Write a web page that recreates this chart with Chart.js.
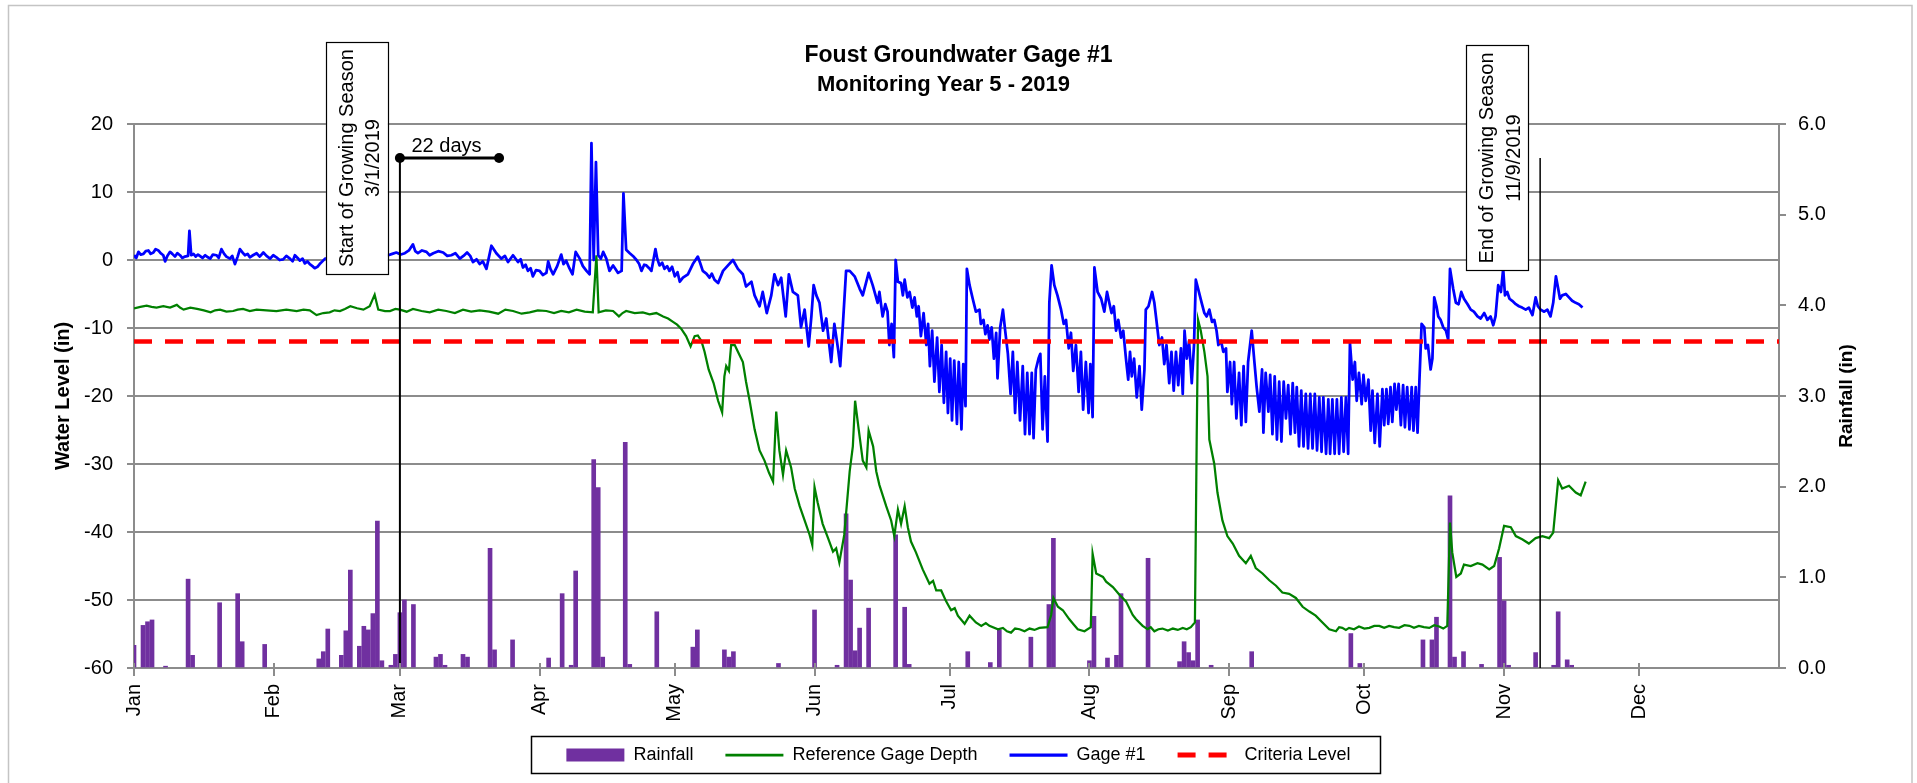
<!DOCTYPE html>
<html>
<head>
<meta charset="utf-8">
<title>Foust Groundwater Gage #1</title>
<script src="https://cdn.jsdelivr.net/npm/chart.js@4.4.1/dist/chart.umd.min.js"></script>
<style>
  html, body { margin: 0; padding: 0; background: #ffffff; }
  #wrap { width: 1917px; height: 783px; }
  canvas { display: block; }
</style>
</head>
<body>
<div id="wrap"><canvas id="chart" width="1917" height="783"></canvas></div>
<script>
// ---- Axis tick data (day of year, 0 = Jan 1) ----
const monthStartDays = [0, 31, 59, 90, 120, 151, 181, 212, 243, 273, 304, 334];
const monthLabels = ['Jan', 'Feb', 'Mar', 'Apr', 'May', 'Jun', 'Jul', 'Aug', 'Sep', 'Oct', 'Nov', 'Dec'];

// ---- Daily rainfall (in) ----
const rainDay = [0,2,3,4,7,12,13,19,23,24,29,41,42,43,46,47,48,50,51,52,53,54,55,57,58,59,60,62,67,68,69,73,74,79,80,84,92,95,97,98,102,103,104,109,110,116,124,125,131,132,133,143,151,156,158,159,160,161,163,169,171,172,185,190,192,199,203,204,212,213,216,218,219,225,232,233,234,235,236,239,248,270,272,286,288,289,292,293,295,299,303,304,305,311,315,316,318,319];
const rainInches = [0.25,0.47,0.51,0.53,0.02,0.98,0.14,0.72,0.82,0.29,0.26,0.10,0.18,0.43,0.14,0.41,1.08,0.24,0.46,0.42,0.60,1.62,0.08,0.03,0.15,0.61,0.75,0.70,0.12,0.15,0.03,0.15,0.12,1.32,0.20,0.31,0.11,0.82,0.03,1.07,2.30,1.99,0.12,2.49,0.04,0.62,0.23,0.42,0.20,0.12,0.18,0.05,0.64,0.03,1.70,0.97,0.19,0.44,0.66,1.47,0.67,0.04,0.18,0.06,0.42,0.34,0.70,1.43,0.08,0.57,0.11,0.14,0.82,1.21,0.07,0.29,0.17,0.08,0.53,0.03,0.18,0.38,0.05,0.31,0.31,0.56,1.90,0.12,0.18,0.04,1.22,0.74,0.03,0.17,0.03,0.62,0.09,0.03];

// ---- Gage #1 water level (in), [day, level] ----
const gage1Readings = [
  [0,0.7],[0.5,0.3],[1,1.2],[1.5,0.8],[2.1,0.9],[2.6,1.3],[3.2,1.4],[3.7,0.9],[4.3,1.1],[4.8,1.6],[5.4,1.4],[5.9,1.0],[6.5,0.7],[6.9,-0.2],[7.4,0.6],[8,1.2],[8.5,0.9],[9.1,0.5],[9.6,1.0],[10.2,0.7],[10.7,0.3],[11.3,0.5],[12,0.6],[12.3,4.3],[12.7,0.7],[13.2,0.9],[13.7,0.5],[14.2,0.8],[14.6,0.6],[15.2,0.3],[15.8,0.7],[16.4,0.4],[16.9,0.2],[17.5,0.8],[18.3,0.7],[18.8,0.3],[19.4,1.6],[20,0.9],[20.5,0.5],[21.3,0.2],[21.8,0.6],[22.4,-0.6],[23,0.5],[23.5,1.6],[24.1,1.1],[24.6,0.7],[25.2,0.9],[25.7,0.4],[26.4,0.7],[27.2,1.0],[27.9,0.5],[28.7,1.1],[29.4,0.6],[30.2,0.2],[30.9,0.7],[31.6,0.4],[32.3,0.0],[33.1,0.1],[33.8,0.6],[34.6,0.2],[35.2,-0.2],[35.7,0.7],[36.3,0.3],[36.8,-0.1],[37.4,0.2],[37.9,-0.5],[38.5,-0.2],[39,-0.6],[39.6,-0.9],[40.1,-1.2],[40.7,-1.0],[41.2,-0.6],[41.8,-0.2],[42.4,0.2],[45,0.4],[48,0.9],[51,0.5],[54,0.8],
  [56.4,0.7],[57.3,0.9],[58.2,1.1],[59.2,0.8],[60.1,1.0],[61,1.4],[61.9,2.3],[62.4,1.3],[63,1.0],[63.9,1.4],[64.9,1.2],[65.6,0.7],[66.4,1.0],[67.5,1.3],[68.6,1.1],[69.5,0.6],[70.4,0.7],[71.3,1.0],[72.3,0.2],[73.1,0.6],[73.9,1.1],[74.6,0.6],[75.2,-0.3],[76,0.1],[76.7,-0.6],[77.4,-0.2],[78.2,-1.3],[79.3,2.1],[80.4,1.0],[81.5,0.2],[82.3,0.6],[83,-0.3],[84.1,0.7],[85.2,-0.3],[85.8,0.1],[86.3,-1.1],[86.9,-0.7],[87.4,-1.6],[88,-1.2],[88.5,-2.4],[89.2,-1.5],[90,-1.6],[90.7,-2.2],[91.5,-1.9],[91.9,-0.2],[92.4,-1.3],[93,-2.1],[93.9,-0.9],[94.8,0.8],[95.3,-0.6],[95.9,-0.1],[96.6,-1.2],[97.3,-2.1],[98,1.2],[98.9,0.2],[99.6,-0.9],[100.4,-1.6],[101.1,-2.1],[101.5,17.2],[102,0.0],[102.5,14.4],[103,0.7],[103.6,0.2],[104.1,1.2],[104.8,0.2],[105.5,-1.6],[106.3,-0.8],[106.9,-1.4],[107.4,-1.9],[108.2,-1.6],[108.6,9.8],[109.2,1.5],
  [110,1.0],[110.7,0.6],[111.5,0.0],[112.1,-0.6],[112.6,-1.6],[113.2,-0.7],[113.7,-0.8],[114.3,-1.2],[114.8,-1.6],[115.7,1.6],[116.1,0.2],[116.6,-0.8],[117.2,-0.4],[117.7,-1.3],[118.3,-0.9],[118.8,-1.6],[119.4,-1.0],[120,-2.4],[120.6,-1.8],[121.1,-3.2],[121.8,-2.6],[122.9,-2.1],[124,-0.6],[125.1,0.5],[125.6,-0.4],[126.2,-1.6],[127,-2.0],[127.7,-2.6],[128.2,-2.0],[128.8,-2.9],[129.6,-3.4],[130.7,-1.6],[131.8,-0.8],[132.9,0.0],[134,-1.3],[135.1,-2.1],[135.8,-3.9],[137,-3.2],[137.7,-5.2],[138.8,-6.8],[139.5,-4.7],[140.4,-7.8],[141.4,-5.2],[142.1,-2.1],[142.9,-3.7],[143.6,-2.6],[144.6,-8.3],[145.3,-2.1],[146.2,-4.7],[147.3,-5.2],[148,-9.9],[148.8,-7.3],[149.7,-12.7],[150.3,-8.3],[150.8,-3.7],[151.4,-5.2],[152.1,-6.3],[152.9,-10.4],[153.6,-8.6],[154.7,-15.0],[155.4,-9.4],[156.2,-13.0],[156.7,-15.6],[157.3,-9.4],[158,-1.6],[158.8,-1.6],[159.9,-2.4],[161,-4.2],[161.7,-5.2],[163,-1.9],[163.9,-3.7],[165,-6.3],
  [165.4,-4.7],[166.1,-8.3],[166.7,-6.5],[167.2,-7.6],[167.6,-12.5],[168.1,-9.4],[168.6,-14.3],[169,0.0],[169.5,-3.2],[170.2,-3.4],[170.6,-5.2],[171,-2.9],[171.6,-5.5],[172.1,-4.7],[172.7,-7.0],[173.2,-5.5],[173.7,-8.3],[174.1,-6.8],[174.6,-11.2],[175.2,-7.8],[175.8,-12.5],[176.2,-9.4],[176.6,-15.6],[177.1,-10.4],[177.6,-17.9],[178.2,-11.4],[178.7,-19.4],[179.2,-12.5],[179.7,-21.0],[180.2,-13.5],[180.6,-22.5],[181.1,-14.5],[181.5,-23.6],[182,-14.8],[182.6,-24.1],[183,-15.0],[183.6,-24.9],[184,-15.3],[184.5,-21.5],[184.8,-1.3],[185.4,-3.7],[186.1,-5.7],[186.8,-7.6],[187.6,-7.3],[187.9,-9.4],[188.5,-8.8],[188.9,-10.9],[189.4,-9.6],[189.8,-11.7],[190.3,-9.9],[190.8,-14.5],[191.3,-10.7],[191.6,-17.4],[192.2,-9.9],[192.8,-7.3],[193.3,-10.4],[193.9,-13.8],[194.5,-19.7],[195,-13.5],[195.5,-22.5],[196,-15.0],[196.6,-23.6],[197.2,-15.6],[197.7,-25.6],[198.2,-16.6],[198.7,-25.6],[199.2,-16.6],[199.6,-26.2],[200.1,-16.1],[200.7,-14.5],[201.1,-13.8],[201.6,-24.9],[202.1,-17.1],[202.7,-26.7],[203.1,-6.3],[203.6,-0.8],[204.2,-3.7],[204.9,-5.2],[205.7,-7.3],[206.3,-9.4],[206.8,-8.8],[207.4,-13.0],[207.9,-10.7],[208.4,-16.3],[209,-12.5],[209.6,-19.4],[210.1,-13.5],[210.6,-22.0],[211.2,-15.0],[211.8,-22.5],[212.2,-15.3],[212.7,-23.1],[213.1,-1.1],[213.8,-4.7],[214.6,-5.7],[215.3,-7.6],[215.9,-4.7],[216.4,-6.3],[216.9,-7.8],[217.4,-6.8],[217.9,-10.4],[218.4,-8.8],[219,-11.4],[219.5,-10.4],[220.1,-14.5],[220.6,-17.6],[221,-13.5],
  [221.4,-17.1],[221.9,-14.5],[222.5,-20.2],[223.1,-15.6],[223.6,-22.0],[224.2,-16.1],[224.5,-7.3],[225.1,-6.8],[225.9,-4.7],[226.4,-6.3],[226.9,-9.1],[227.5,-12.5],[228.1,-11.4],[228.6,-15.3],[229.1,-12.5],[229.7,-18.1],[230.2,-13.5],[230.7,-19.2],[231.2,-13.5],[231.7,-18.4],[232.3,-13.0],[232.7,-19.7],[233.1,-10.4],[233.6,-14.5],[234.1,-11.9],[234.7,-18.1],[235.2,-12.5],[235.6,-2.9],[236.1,-4.2],[236.9,-6.3],[237.5,-7.8],[238,-8.3],[238.6,-7.3],[239.2,-9.1],[239.7,-8.8],[240.2,-10.4],[240.6,-12.5],[241.2,-11.9],[241.7,-13.5],[242.3,-13.0],[242.6,-19.4],[243.2,-15.0],[243.6,-21.2],[244.1,-15.0],[244.6,-23.3],[245.2,-16.6],[245.7,-24.3],[246.2,-15.6],[246.7,-23.8],[247.2,-15.0],[248,-10.4],[248.6,-15.0],[249.1,-18.7],[249.7,-22.3],[250.3,-16.1],[250.6,-25.4],[251.1,-16.6],[251.7,-22.3],[252.1,-16.9],[252.6,-25.6],[253.1,-17.1],[253.6,-26.4],[254.1,-17.9],[254.6,-26.7],[255.1,-17.9],[255.6,-23.3],[256.1,-18.4],[256.6,-25.6],[257.1,-18.1],[257.6,-25.4],[258,-18.7],[258.5,-27.4],[259,-19.2],[259.5,-27.4],[260,-19.7],[260.5,-27.7],[261,-19.7],[261.5,-27.7],[262,-19.7],[262.5,-28.0],[263,-20.2],[263.5,-28.2],[263.9,-20.2],[264.5,-28.5],[265,-20.5],[265.4,-28.5],[265.9,-20.5],[266.4,-28.5],[266.9,-20.5],[267.4,-28.5],[267.9,-20.2],[268.4,-28.2],[268.9,-20.2],[269.4,-28.5],[269.8,-12.2],[270.4,-17.6],[270.9,-15.0],[271.3,-20.7],[271.8,-16.6],[272.4,-21.2],[272.8,-16.9],[273.3,-20.7],[273.9,-17.6],[274.4,-25.1],[274.8,-19.2],[275.3,-26.9],[275.9,-19.7],[276.4,-27.4],
  [277,-19.0],[277.4,-24.3],[277.9,-19.0],[278.3,-24.1],[278.8,-18.7],[279.2,-23.8],[279.7,-18.2],[280.1,-22.0],[280.6,-18.2],[281.1,-24.3],[281.6,-18.4],[282,-24.6],[282.5,-18.7],[283,-24.9],[283.5,-18.7],[283.9,-25.1],[284.4,-18.7],[284.8,-25.4],[285.2,-18.0],[285.7,-9.4],[286.3,-9.9],[286.6,-13.0],[287.1,-12.5],[287.7,-16.1],[288.1,-14.5],[288.5,-5.5],[289,-6.8],[289.4,-8.3],[289.9,-8.8],[290.5,-9.9],[291.1,-10.4],[291.6,-11.7],[292,-1.3],[292.7,-4.2],[293.3,-6.3],[293.9,-6.5],[294.5,-4.7],[295.1,-5.7],[295.9,-6.5],[296.6,-7.3],[297.3,-7.6],[298.1,-8.3],[298.8,-8.6],[299.6,-7.8],[300.3,-8.8],[301,-8.3],[301.6,-9.6],[302.1,-8.3],[302.7,-3.7],[303.3,-4.7],[303.8,-1.3],[304.2,-5.2],[304.7,-4.7],[305.2,-5.7],[305.8,-6.0],[306.6,-6.5],[307.3,-6.8],[308,-7.0],[308.8,-7.3],[309.5,-7.0],[310.3,-8.1],[311,-5.5],[311.5,-6.8],[312.1,-7.3],[312.9,-7.6],[313.6,-7.3],[314.3,-8.3],[314.9,-6.3],[315.5,-2.4],[316,-4.2],[316.4,-5.7],[316.9,-5.2],[317.7,-5.0],[318.4,-5.5],[319.1,-6.0],[319.9,-6.3],[320.6,-6.5],[321.4,-7.0]
];

// ---- Reference gage depth (in), [day, level] ----
const referenceReadings = [
  [0,-7.1],[1.4,-6.9],[2.8,-6.7],[3.9,-6.9],[5,-7.0],[6.5,-6.8],[8,-7.0],[9.5,-6.6],[10.2,-7.0],[11,-7.3],[12.5,-7.0],[14,-7.2],[15.5,-7.4],[17,-7.7],[18,-7.4],[19.1,-7.3],[20.5,-7.6],[22,-7.5],[23,-7.3],[24.2,-7.2],[25.7,-7.5],[27.2,-7.3],[29.4,-7.4],[31.6,-7.5],[33.8,-7.3],[36.1,-7.5],[37.6,-7.3],[39,-7.4],[40.5,-8.1],[42,-7.8],[43.4,-7.7],[44.5,-7.4],[45.7,-7.5],[46.8,-7.2],[48,-6.8],[49.5,-7.1],[50.9,-7.3],[52.3,-6.8],[53.4,-5.1],[54.2,-7.3],[55.7,-7.5],
  [56.8,-7.5],[58,-7.2],[59,-7.3],[60.5,-7.6],[61.9,-7.2],[63.8,-7.5],[65.6,-7.7],[67.5,-7.3],[69.3,-7.5],[71.2,-7.8],[73,-7.3],[74.8,-7.6],[76.7,-7.4],[78.8,-7.6],[80.8,-7.9],[82.4,-7.3],[84.1,-7.5],[86,-7.9],[87.8,-7.7],[89.6,-7.4],[91.5,-7.5],[93.2,-7.8],[94.8,-7.5],[96.5,-7.7],[98.2,-7.3],[100,-7.6],[101.8,-7.7],[102.6,0.7],[103.1,-7.7],[104.7,-7.4],[106.3,-7.5],[107.6,-8.3],[108.4,-7.8],[109.2,-7.5],[111.1,-7.8],
  [112.9,-7.7],[114.4,-8.0],[115.9,-7.8],[117.4,-8.3],[118.5,-8.6],[119.6,-9.1],[120.5,-9.5],[121.4,-10.1],[122.5,-11.2],[123.5,-12.7],[124.4,-11.2],[125.1,-11.1],[125.9,-11.9],[126.6,-13.5],[127.5,-16.1],[128.6,-18.1],[129.6,-20.7],[130.5,-22.4],[131,-17.1],[131.4,-15.6],[132,-16.3],[132.5,-12.5],[133.3,-12.5],[134,-13.5],[135.1,-15.0],[135.8,-17.9],[136.6,-20.7],[137.7,-24.9],[138.8,-28.0],[139.9,-29.5],[140.9,-31.3],[141.8,-32.6],[142.5,-22.3],[143.2,-28.0],[144,-31.6],[144.7,-28.0],[145.8,-30.5],[146.6,-33.6],[147.7,-36.2],[148.8,-38.3],[149.9,-40.4],[150.5,-41.9],[151,-33.4],[151.7,-35.7],[152.8,-38.8],[154,-40.9],[155.1,-42.9],[155.8,-42.4],[156.5,-44.5],[157.6,-40.4],[158.8,-31.1],[159.5,-27.4],[160,-20.7],[160.8,-24.9],[161.7,-29.5],[162.5,-30.5],[163,-25.1],[164,-27.4],[164.7,-31.1],[165.4,-33.1],
  [166.9,-36.2],[168,-38.3],[168.7,-40.6],[169.5,-36.7],[170.2,-38.8],[171,-36.2],[171.7,-39.3],[172.4,-41.4],[173.5,-43.0],[175,-45.5],[176.5,-47.6],[177.3,-47.2],[178,-48.6],[179.1,-48.6],[180.2,-50.2],[181.3,-51.5],[182.1,-51.2],[182.8,-52.3],[184.3,-53.5],[185.4,-52.3],[186.8,-53.3],[188,-53.8],[189,-53.4],[189.8,-53.8],[191.7,-54.3],[192.8,-54.1],[193.7,-54.6],[194.6,-54.8],[195.5,-54.2],[196.5,-54.3],[197.6,-54.6],[198.7,-54.2],[199.8,-54.4],[200.9,-54.1],[202.7,-54.0],[203.5,-52.2],[204,-49.7],[205,-51.0],[206.1,-51.5],[207.5,-52.8],[208.5,-53.6],[209.4,-54.3],[210.9,-54.6],[212.3,-54.0],[212.7,-43.2],[213.5,-46.1],[215,-46.6],[215.7,-47.3],[217.2,-48.1],[218.6,-49.2],[220.1,-50.2],[221.6,-52.2],
  [222.3,-52.8],[223.8,-53.8],[224.9,-54.3],[225.6,-54.0],[226.4,-54.6],[227.3,-54.3],[228.2,-54.2],[229.4,-54.5],[230.5,-54.2],[231.6,-54.4],[232.7,-54.1],[233.6,-54.3],[234.5,-54.0],[235.4,-53.3],[235.8,-25.9],[236.1,-8.8],[236.7,-10.4],[237.5,-13.5],[238.2,-17.1],[238.6,-26.4],[239.7,-30.0],[240.4,-34.2],[241.5,-38.3],[242.6,-40.6],[243.8,-41.7],[245.2,-43.5],[246.7,-44.6],[247.8,-43.5],[248.9,-45.3],[250.4,-46.1],[251.9,-47.1],[253.4,-47.9],[254.8,-48.9],[256.3,-49.1],[257.8,-49.7],[259.3,-51.0],[260.8,-51.7],[262.2,-52.3],[263.7,-53.3],[265.2,-54.3],[266.7,-54.6],[267.4,-54.0],[268.1,-54.1],[268.9,-54.4],[269.6,-54.1],[270.7,-54.3],[271.8,-53.9],[273,-54.2],[274.1,-54.1],[275.2,-53.8],[276.3,-53.8],
  [277.4,-54.1],[278.5,-53.8],[279.6,-54.0],[280.7,-54.1],[281.9,-53.7],[283,-53.8],[284,-54.1],[285.1,-53.8],[286.2,-54.0],[287.4,-54.1],[288.5,-53.7],[289.6,-53.9],[290.5,-54.2],[291.4,-53.8],[292,-38.6],[292.5,-43.0],[293.4,-46.6],[294.4,-46.1],[295.1,-44.8],[296.6,-45.0],[298.1,-44.6],[299.2,-44.8],[300.7,-45.5],[301.8,-45.0],[302.9,-42.4],[304,-39.1],[305.5,-39.3],[306.6,-40.6],[308.1,-41.1],[309.5,-41.7],[311,-40.9],[312.5,-40.6],[314,-40.9],[314.9,-40.1],[316,-32.4],[316.9,-33.6],[318.4,-33.2],[319.9,-34.2],[321,-34.6],[322.1,-32.6]
];

// ---- Criteria level (in) across the year ----
const criteriaDay = [0, 365];
const criteriaLevel = [-12, -12];

// ---- Growing season markers ----
const growStartDay = 59;      // 3/1/2019
const growEndDay = 312;       // 11/9/2019
const bracketDays = 22;
const markerLevel = 15;
const startLabel = ['Start of Growing Season', '3/1/2019'];
const endLabel = ['End of Growing Season', '11/9/2019'];

const chartTitle = 'Foust Groundwater Gage #1';
const chartSubtitle = 'Monitoring Year 5 - 2019';

const FONT = '"Liberation Sans", Arial, sans-serif';
const GRID = '#8c8c8c';
const X_AXIS_HEIGHT = 60;     // room for the rotated month labels
const LEGEND_PAD = 32;        // spacing between legend entries
const LEGEND_FONT = 18;
const LEGEND_ROW_OFFSET = 78; // legend row top, measured below the plot area
const LEGEND_LIFT = X_AXIS_HEIGHT + LEGEND_PAD - LEGEND_ROW_OFFSET;
const LEGEND_HEIGHT = LEGEND_FONT + LEGEND_PAD + 10;

Chart.defaults.font.family = FONT;
Chart.defaults.color = '#000000';

// Page frame, titles, right-axis title, legend border, inner x ticks
const decorations = {
  id: 'decorations',
  afterLayout(chart) {
    // sit the legend row closer to the month labels
    const lg = chart.legend;
    if (lg) { lg.top -= LEGEND_LIFT; lg.bottom -= LEGEND_LIFT; }
  },
  beforeDraw(chart) {
    const { ctx, width, height } = chart;
    ctx.save();
    ctx.fillStyle = '#ffffff';
    ctx.fillRect(0, 0, width, height);
    ctx.strokeStyle = '#c4c4c4';
    ctx.lineWidth = 1.5;
    ctx.strokeRect(8.5, 5.5, width - 13.5, height + 20);
    ctx.restore();
  },
  afterDraw(chart) {
    const { ctx, width, chartArea, scales } = chart;
    ctx.save();
    ctx.fillStyle = '#000';
    ctx.textAlign = 'center';
    ctx.textBaseline = 'alphabetic';
    ctx.font = 'bold 23px ' + FONT;
    ctx.fillText(chartTitle, width / 2, 61.5);
    ctx.font = 'bold 22px ' + FONT;
    ctx.fillText(chartSubtitle, width / 2 - 15, 91);

    // rainfall axis title, reading bottom to top
    const y2 = scales.y2;
    ctx.font = 'bold 19px ' + FONT;
    ctx.textBaseline = 'middle';
    ctx.translate(y2.right - 70, (chartArea.top + chartArea.bottom) / 2);
    ctx.rotate(-Math.PI / 2);
    ctx.fillText('Rainfall (in)', 0, 0);
    ctx.restore();

    // month tick marks crossing into the plot
    ctx.save();
    ctx.strokeStyle = GRID;
    ctx.lineWidth = 2;
    monthStartDays.forEach(d => {
      const px = Math.round(scales.x.getPixelForValue(d));
      ctx.beginPath();
      ctx.moveTo(px, chartArea.bottom - 5);
      ctx.lineTo(px, chartArea.bottom);
      ctx.stroke();
    });
    ctx.restore();

    // legend frame
    const hb = chart.legend.legendHitBoxes;
    if (hb && hb.length) {
      const last = hb[hb.length - 1];
      const left = hb[0].left - 35;
      const right = last.left + last.width + 30;
      const top = hb[0].top - 10;
      const bottom = hb[0].top + hb[0].height + 9;
      ctx.save();
      ctx.strokeStyle = '#000';
      ctx.lineWidth = 1.5;
      ctx.strokeRect(Math.round(left) + 0.5, Math.round(top) + 0.5, Math.round(right - left), Math.round(bottom - top));
      ctx.restore();
    }
  }
};

// Growing season lines, 22-day bracket and label boxes
const growingSeason = {
  id: 'growingSeason',
  afterDatasetsDraw(chart) {
    const { ctx, scales: { x, y } } = chart;
    const xs = x.getPixelForValue(growStartDay);
    const xe = x.getPixelForValue(growEndDay);
    const xb = x.getPixelForValue(growStartDay + bracketDays);
    const yTop = y.getPixelForValue(markerLevel);
    const yBot = y.getPixelForValue(y.min);

    ctx.save();
    ctx.strokeStyle = '#000';
    ctx.lineWidth = 2;
    ctx.beginPath(); ctx.moveTo(xs, yTop); ctx.lineTo(xs, yBot); ctx.stroke();
    ctx.lineWidth = 1.5;
    ctx.beginPath(); ctx.moveTo(xe, yTop); ctx.lineTo(xe, yBot); ctx.stroke();

    ctx.lineWidth = 3;
    ctx.beginPath(); ctx.moveTo(xs, yTop); ctx.lineTo(xb, yTop); ctx.stroke();
    ctx.fillStyle = '#000';
    [xs, xb].forEach(px => { ctx.beginPath(); ctx.arc(px, yTop, 5, 0, Math.PI * 2); ctx.fill(); });

    ctx.font = '20px ' + FONT;
    ctx.textAlign = 'center';
    ctx.textBaseline = 'alphabetic';
    ctx.fillText(bracketDays + ' days', (xs + xb) / 2 - 3, yTop - 6);

    const drawBox = (lineX, lines) => {
      ctx.font = '20px ' + FONT;
      const tw = Math.max(...lines.map(s => ctx.measureText(s).width));
      const h = tw + 14, w = 62;
      const right = lineX - 12, left = right - w, cx = left + w / 2;
      ctx.fillStyle = '#fff';
      ctx.fillRect(left, yTop - h / 2, w, h);
      ctx.strokeStyle = '#000';
      ctx.lineWidth = 1.2;
      ctx.strokeRect(Math.round(left) + 0.5, Math.round(yTop - h / 2) + 0.5, w, Math.round(h));
      ctx.save();
      ctx.translate(cx, yTop);
      ctx.rotate(-Math.PI / 2);
      ctx.fillStyle = '#000';
      ctx.textAlign = 'center';
      ctx.textBaseline = 'alphabetic';
      ctx.fillText(lines[0], 0, -4);
      ctx.fillText(lines[1], 0, 22.5);
      ctx.restore();
    };
    drawBox(xs, startLabel);
    drawBox(xe, endLabel);
    ctx.restore();
  }
};

const toPoints = rows => rows.map(r => ({ x: r[0], y: r[1] }));

new Chart(document.getElementById('chart'), {
  type: 'line',
  data: {
    datasets: [
      {
        type: 'bar', label: 'Rainfall', yAxisID: 'y2',
        data: rainDay.map((d, i) => ({ x: d, y: rainInches[i] })),
        backgroundColor: '#7030A0', borderWidth: 0, barThickness: 4, order: 4
      },
      {
        type: 'line', label: 'Reference Gage Depth', yAxisID: 'y',
        data: toPoints(referenceReadings),
        borderColor: '#008000', borderWidth: 2.25, pointRadius: 0, tension: 0, fill: false, order: 3
      },
      {
        type: 'line', label: 'Gage #1', yAxisID: 'y',
        data: toPoints(gage1Readings),
        borderColor: '#0000FF', borderWidth: 2.75, pointRadius: 0, tension: 0, fill: false, order: 2,
        borderJoinStyle: 'round'
      },
      {
        type: 'line', label: 'Criteria Level', yAxisID: 'y',
        data: criteriaDay.map((d, i) => ({ x: d, y: criteriaLevel[i] })),
        borderColor: '#FF0000', borderWidth: 4.5, borderDash: [18, 13], pointRadius: 0, fill: false, order: 1
      }
    ]
  },
  options: {
    responsive: false,
    devicePixelRatio: 1,
    animation: false,
    events: [],
    layout: { padding: { top: 124, left: 0, right: 0, bottom: 115 - X_AXIS_HEIGHT - LEGEND_HEIGHT } },
    plugins: {
      title: { display: false },
      tooltip: { enabled: false },
      legend: {
        position: 'bottom',
        labels: {
          usePointStyle: true,
          pointStyleWidth: 58,
          boxHeight: 13,
          padding: LEGEND_PAD,
          color: '#000',
          font: { size: LEGEND_FONT },
          generateLabels(chart) {
            return chart.data.datasets.map((ds, i) => ({
              text: ds.label,
              datasetIndex: i,
              hidden: false,
              fillStyle: ds.type === 'bar' ? ds.backgroundColor : 'rgba(0,0,0,0)',
              strokeStyle: ds.type === 'bar' ? ds.backgroundColor : ds.borderColor,
              lineWidth: ds.type === 'bar' ? 0 : ds.borderWidth + 0.5,
              lineDash: ds.borderDash || [],
              lineCap: 'butt',
              pointStyle: ds.type === 'bar' ? 'rect' : 'line',
              rotation: 0
            }));
          }
        }
      }
    },
    scales: {
      x: {
        type: 'linear', min: 0, max: 365, offset: false,
        afterBuildTicks: s => { s.ticks = monthStartDays.map(v => ({ value: v })); },
        afterFit: s => { s.height = X_AXIS_HEIGHT; },
        ticks: {
          autoSkip: false, minRotation: 90, maxRotation: 90, padding: 8,
          font: { size: 20 }, color: '#000',
          callback: (v, i) => monthLabels[i]
        },
        grid: { drawOnChartArea: false, drawTicks: true, tickLength: 8, color: GRID, lineWidth: 2, offset: false },
        border: { display: true, color: GRID, width: 2 }
      },
      y: {
        position: 'left', min: -60, max: 20,
        afterFit: s => { s.width = 134; },
        ticks: { stepSize: 10, padding: 14, font: { size: 20 }, color: '#000' },
        grid: { color: GRID, lineWidth: 2, tickLength: 7, drawTicks: true },
        border: { display: true, color: GRID, width: 2 },
        title: {
          display: true, text: 'Water Level (in)', color: '#000',
          font: { size: 20, weight: 'bold' }, padding: { top: 51, bottom: 0 }
        }
      },
      y2: {
        position: 'right', min: 0, max: 6,
        afterFit: s => { s.width = 138; },
        ticks: { stepSize: 1, padding: 12, font: { size: 20 }, color: '#000', callback: v => Number(v).toFixed(1) },
        grid: { drawOnChartArea: false, color: GRID, lineWidth: 2, tickLength: 7 },
        border: { display: true, color: GRID, width: 2 }
      }
    }
  },
  plugins: [decorations, growingSeason]
});
</script>
</body>
</html>
